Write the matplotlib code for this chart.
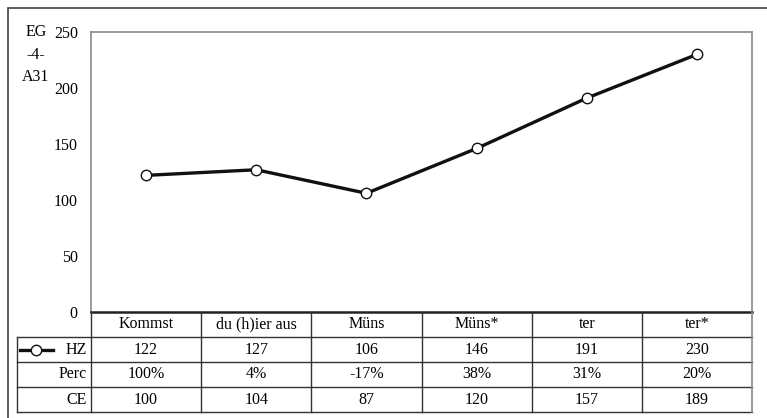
import matplotlib.pyplot as plt
import matplotlib.patches as mpatches
from matplotlib.lines import Line2D

categories = ["Kommst", "du (h)ier aus", "Müns", "Müns*", "ter", "ter*"]
hz = [122, 127, 106, 146, 191, 230]
perc = ["100%", "4%", "-17%", "38%", "31%", "20%"]
ce = [100, 104, 87, 120, 157, 189]
row_labels = ["HZ", "Perc", "CE"]
y_ticks = [0, 50, 100, 150, 200, 250]

plt.rcParams["font.family"] = ["Liberation Serif", "DejaVu Serif"]
plt.rcParams["font.size"] = 11.5

W, H = 767, 418
fig = plt.figure(figsize=(W / 100, H / 100), dpi=100)


def fx(px):
    return px / W


def fy(py):
    return 1 - py / H


# outer frame
fig.patches.append(mpatches.Rectangle((fx(8), fy(430)), fx(780) - fx(8), fy(8) - fy(430),
                                      transform=fig.transFigure, fill=False,
                                      edgecolor="#404040", lw=1.2))

left, right, top, bottom = 91, 752, 32, 312
ax = fig.add_axes([fx(left), fy(bottom), fx(right) - fx(left), fy(top) - fy(bottom)])
x = list(range(len(categories)))
ax.plot(x, hz, color="#111111", lw=2.4, marker="o", ms=7.5,
        markerfacecolor="white", markeredgecolor="#111111", markeredgewidth=1.0, zorder=3)
ax.set_xlim(-0.5, len(categories) - 0.5)
ax.set_ylim(0, 250)
ax.set_yticks(y_ticks)
ax.tick_params(axis="y", length=0, pad=9.5, labelsize=11.5)
ax.set_xticks([])
for side in ("left", "top", "right"):
    ax.spines[side].set_color("#8a8a8a")
    ax.spines[side].set_linewidth(1.2)
ax.spines["bottom"].set_color("#222222")
ax.spines["bottom"].set_linewidth(1.8)

fig.text(fx(36), fy(24), "EG\n-4-\nA31", ha="center", va="top", fontsize=11.5, linespacing=1.55)

# data table
t_left, t_bottom = 17, 412
col_w = (right - left) / len(categories)
lab_w = (left - t_left) / col_w
tax = fig.add_axes([fx(t_left), fy(t_bottom), fx(right) - fx(t_left), fy(bottom) - fy(t_bottom)])
x0 = -0.5 - lab_w
x1 = len(categories) - 0.5
tax.set_xlim(x0, x1)
tax.set_ylim(4, 0)
tax.axis("off")
lc = "#333333"
# horizontal lines
for r in (1, 2, 3, 4):
    tax.plot([x0, x1], [r, r], color=lc, lw=1.0, clip_on=False)
# vertical lines
for i in range(len(categories) + 1):
    tax.plot([i - 0.5, i - 0.5], [0, 4], color=lc if i < len(categories) else "#8a8a8a",
             lw=1.0 if i < len(categories) else 1.2, clip_on=False)
tax.plot([x0, x0], [1, 4], color=lc, lw=1.0, clip_on=False)

for i, c in enumerate(categories):
    tax.text(i, 0.5, c, ha="center", va="center")
rows = [hz, perc, ce]
for r, vals in enumerate(rows):
    for i, v in enumerate(vals):
        tax.text(i, r + 1.5, str(v), ha="center", va="center")
    tax.text(-0.5 - 0.04, r + 1.5, row_labels[r], ha="right", va="center")

# legend key for HZ
tax.add_line(Line2D([x0 + 0.027, x0 + 0.327], [1.5, 1.5], color="#111111", lw=2.4,
                    clip_on=False))
tax.plot([x0 + 0.17], [1.5], marker="o", ms=7.5, markerfacecolor="white",
         markeredgecolor="#111111", markeredgewidth=1.0, clip_on=False, zorder=4)

fig.savefig("out.png", dpi=100, facecolor="white")
